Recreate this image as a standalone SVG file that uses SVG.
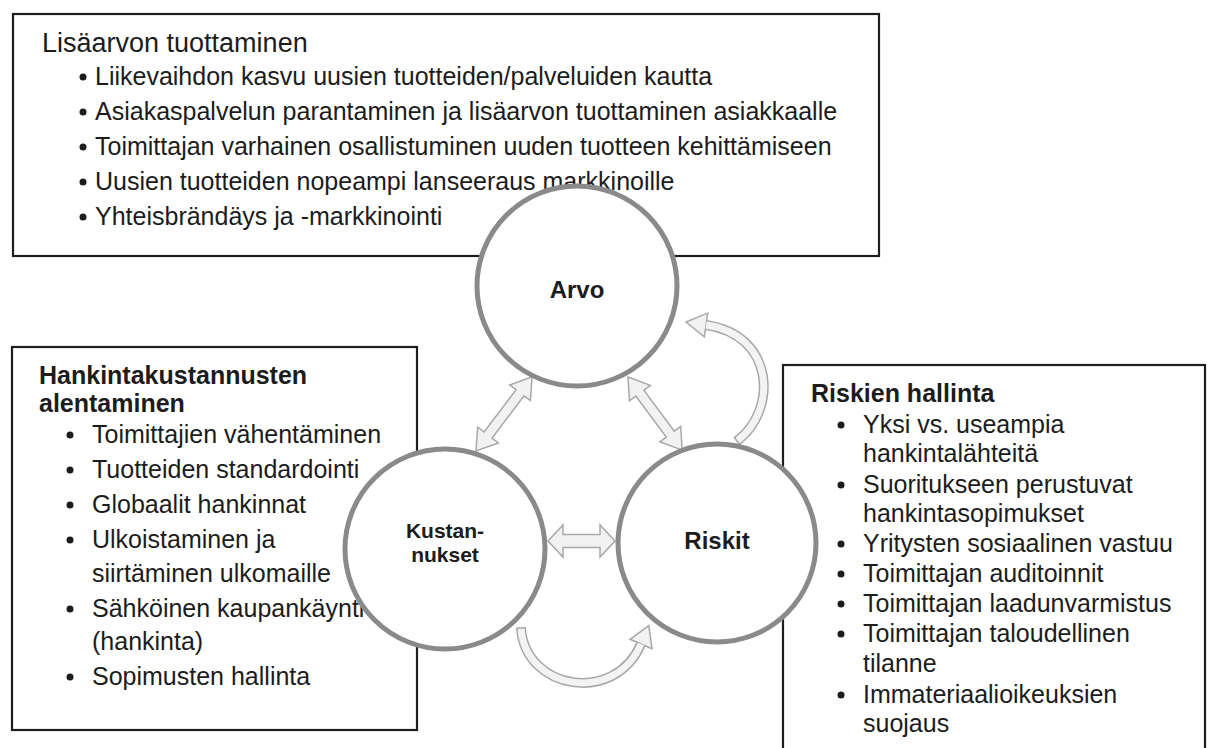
<svg xmlns="http://www.w3.org/2000/svg" width="1216" height="748" viewBox="0 0 1216 748">
<style>
.box{fill:#fff;stroke:#1e1e1e;stroke-width:2.2}
.node{fill:#fff;stroke:#8a8a8a;stroke-width:5}
.t{font-family:"Liberation Sans",Arial,sans-serif;font-size:25px;fill:#1c1c1c}
.b{font-weight:bold}
.h{font-size:27px}
.lbl{font-family:"Liberation Sans",Arial,sans-serif;font-weight:bold;fill:#1c1c1c;text-anchor:middle}
.bul{fill:#1c1c1c}
.arrow{fill:#f2f2f2;stroke:#a8a8a8;stroke-width:1.5}
.band-o{fill:none;stroke:#a8a8a8;stroke-width:10}
.band-i{fill:none;stroke:#f3f3f3;stroke-width:7}
.cap{stroke:#a8a8a8;stroke-width:1.5}
</style>
<rect width="1216" height="748" fill="#fff"/>

<g id="box-lisaarvo">
<rect class="box" x="13" y="14" width="866" height="242"/>
<text class="t h" x="42" y="52">Lisäarvon tuottaminen</text>
<g class="bul"><circle cx="83" cy="77" r="3.5"/><circle cx="83" cy="112" r="3.5"/><circle cx="83" cy="147" r="3.5"/><circle cx="83" cy="182" r="3.5"/><circle cx="83" cy="217" r="3.5"/></g>
<text class="t" x="95" y="85">Liikevaihdon kasvu uusien tuotteiden/palveluiden kautta</text>
<text class="t" x="95" y="120">Asiakaspalvelun parantaminen ja lisäarvon tuottaminen asiakkaalle</text>
<text class="t" x="95" y="155">Toimittajan varhainen osallistuminen uuden tuotteen kehittämiseen</text>
<text class="t" x="95" y="190">Uusien tuotteiden nopeampi lanseeraus markkinoille</text>
<text class="t" x="95" y="225">Yhteisbrändäys ja -markkinointi</text>
</g>

<g id="box-kustannukset">
<rect class="box" x="12" y="347" width="405" height="383"/>
<text class="t b" x="39" y="384">Hankintakustannusten</text>
<text class="t b" x="39" y="412">alentaminen</text>
<g class="bul"><circle cx="70" cy="435" r="3.5"/><circle cx="70" cy="470" r="3.5"/><circle cx="70" cy="505" r="3.5"/><circle cx="70" cy="540" r="3.5"/><circle cx="70" cy="609" r="3.5"/><circle cx="70" cy="677" r="3.5"/></g>
<text class="t" x="92" y="443">Toimittajien vähentäminen</text>
<text class="t" x="92" y="478">Tuotteiden standardointi</text>
<text class="t" x="92" y="513">Globaalit hankinnat</text>
<text class="t" x="92" y="548">Ulkoistaminen ja</text>
<text class="t" x="92" y="582">siirtäminen ulkomaille</text>
<text class="t" x="92" y="617">Sähköinen kaupankäynti</text>
<text class="t" x="92" y="650">(hankinta)</text>
<text class="t" x="92" y="685">Sopimusten hallinta</text>
</g>

<g id="box-riskit">
<rect class="box" x="783" y="365" width="422" height="400"/>
<text class="t b" x="811" y="402">Riskien hallinta</text>
<g class="bul"><circle cx="841" cy="425" r="3.5"/><circle cx="841" cy="485" r="3.5"/><circle cx="841" cy="544" r="3.5"/><circle cx="841" cy="574" r="3.5"/><circle cx="841" cy="604" r="3.5"/><circle cx="841" cy="634" r="3.5"/><circle cx="841" cy="695" r="3.5"/></g>
<text class="t" x="863" y="433">Yksi vs. useampia</text>
<text class="t" x="863" y="462">hankintalähteitä</text>
<text class="t" x="863" y="493">Suoritukseen perustuvat</text>
<text class="t" x="863" y="522">hankintasopimukset</text>
<text class="t" x="863" y="552">Yritysten sosiaalinen vastuu</text>
<text class="t" x="863" y="582">Toimittajan auditoinnit</text>
<text class="t" x="863" y="612">Toimittajan laadunvarmistus</text>
<text class="t" x="863" y="642">Toimittajan taloudellinen</text>
<text class="t" x="863" y="672">tilanne</text>
<text class="t" x="863" y="703">Immateriaalioikeuksien</text>
<text class="t" x="863" y="732">suojaus</text>
</g>

<g id="connectors">
<polygon class="arrow" transform="translate(476,451) rotate(-52.9)" points="0,0 20,-13 20,-5 73,-5 73,-13 93,0 73,13 73,5 20,5 20,13"/>
<polygon class="arrow" transform="translate(628,377) rotate(53.5)" points="0,0 20,-13 20,-5 71,-5 71,-13 91,0 71,13 71,5 20,5 20,13"/>
<polygon class="arrow" transform="translate(548,541)" points="0,0 15,-16 15,-6.5 52,-6.5 52,-16 67,0 52,16 52,6.5 15,6.5 15,16"/>
<g id="curve-riskit-arvo">
<polygon class="arrow" points="707.7,313.1 686,322 704.3,336.9"/>
<path class="band-o" d="M737 441 C778 410 775 335 706 325"/>
<path class="band-i" d="M737 441 C778 410 775 335 706 325"/>
<line class="cap" x1="734" y1="437" x2="740" y2="445"/>
</g>
<g id="curve-kustannukset-riskit">
<polygon class="arrow" points="652,648.7 648.8,625.6 630,639.3"/>
<path class="band-o" d="M521 628 C525 690 615 705 641 644"/>
<path class="band-i" d="M521 628 C525 690 615 705 641 644"/>
<line class="cap" x1="516" y1="628.3" x2="526" y2="627.7"/>
</g>
</g>

<g id="node-arvo">
<circle class="node" cx="577" cy="286" r="100"/>
<text class="lbl" x="577" y="298" font-size="24">Arvo</text>
</g>
<g id="node-kustannukset">
<circle class="node" cx="445" cy="549" r="100"/>
<text class="lbl" x="445" y="538" font-size="21">Kustan-</text>
<text class="lbl" x="445" y="562" font-size="21">nukset</text>
</g>
<g id="node-riskit">
<circle class="node" cx="717" cy="543" r="99"/>
<text class="lbl" x="717" y="549" font-size="24">Riskit</text>
</g>
</svg>
